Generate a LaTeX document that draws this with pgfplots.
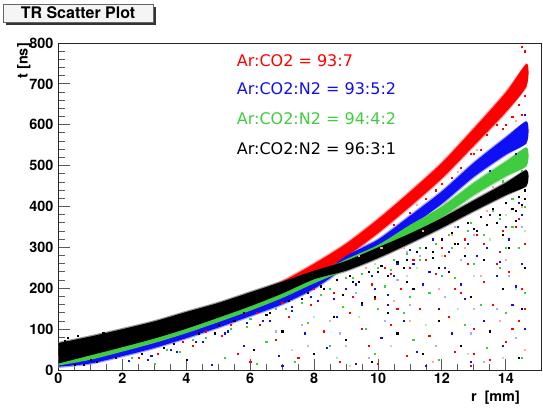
\documentclass[border=0pt]{standalone}
\usepackage{pgfplots}
\pgfplotsset{compat=1.18}
\usepackage{fontspec}
\setmainfont{TeX Gyre Heros}
\newfontfamily\dejavu{DejaVu Sans}
\definecolor{rred}{RGB}{255,0,0}
\definecolor{rblue}{RGB}{15,15,245}
\definecolor{rgreen}{RGB}{64,204,64}
\definecolor{rblack}{RGB}{0,0,0}
\pgfplotstableread{
r   rU   rL   bU   bL   gU   gL   kU   kL
0    55   25   28    8   32   11   66   16
1    73   43   36   16   46   25   82   36
2    92   62   54   34   66   45  100   56
3   112   82   74   54   87   66  119   77
4   135  105   98   78  111   90  142  101
5   159  129  124  104  138  117  164  128
6   187  157  152  132  166  145  190  156
7   217  187  181  161  197  176  216  187
8   260  230  220  199  233  212  243  222
9   309  277  279  251  271  245  267  243
10  369  335  319  291  306  280  300  274
11  436  400  377  349  355  329  334  310
12  507  469  437  407  400  374  372  348
13  591  549  507  473  458  428  415  389
14  679  631  569  527  510  474  458  428
14.65 749 695 608 556 544 500 489 451
}\bands
\begin{document}
\begin{tikzpicture}[x=1pt,y=1pt]
\useasboundingbox (0,0) rectangle (543,408);
\begin{axis}[
  at={(58.5pt,38pt)}, anchor=south west,
  scale only axis, width=482.5pt, height=327pt,
  xmin=0, xmax=15.1, ymin=0, ymax=800,
  xtick={0,2,...,14}, ytick={0,100,...,800},
  minor x tick num=3, minor y tick num=4,
  tick align=inside, xtick pos=bottom, ytick pos=left,
  major tick length=11pt, minor tick length=6pt,
  tick style={black!65, line width=0.9pt},
  axis line style={black!85, line width=1pt},
  /pgf/number format/assume math mode=true,
  ticklabel style={font=\fontsize{14.4}{16}\selectfont\bfseries, inner sep=0pt},
  xticklabel shift=3pt, yticklabel shift=5pt,
  clip=true,
  every axis plot/.append style={mark size=0.55pt},
]
% ---------- scattered hits (solid) ----------
\addplot[only marks, mark=square*, rred] coordinates {
(4.2,60) (5.1,85) (5.6,40) (6.3,110) (6.8,75) (7.2,130) (7.5,30) (7.9,160) (8.3,95) (8.6,190)
(8.8,20) (9.1,140) (9.4,215) (9.7,60) (9.9,175) (10.2,250) (10.4,110) (10.7,200) (10.9,35) (11.1,270)
(11.3,150) (11.6,85) (11.8,235) (12.0,300) (12.2,130) (12.4,45) (12.6,190) (12.8,260) (13.0,100) (13.1,330)
(13.3,215) (13.5,25) (13.6,160) (13.8,290) (14.0,70) (14.1,240) (14.3,350) (14.4,120) (14.5,200) (14.6,310)
(3.1,40) (2.5,30) (6.0,20) (10.0,15) (12.9,10)
(10.5,355) (11.0,385) (11.5,418) (12.0,455) (12.3,470) (12.6,495) (12.9,530) (13.2,540) (13.4,575) (13.7,600)
(13.9,590) (14.2,620) (14.4,650) (14.5,625) (14.6,670) (14.6,780) (14.5,790) (11.8,440) (13.0,530) (14.0,600)
(8.0,200) (7.0,165) (6.2,140) (5.4,110) (4.6,95) (3.9,70) (9.2,180) (9.8,210) (10.4,235) (11.0,250)
(11.5,270) (12.1,280) (12.7,320) (13.3,310) (13.9,340) (14.4,370) (10.6,150) (12.4,200) (13.7,260) (14.6,150)
(9.5,100) (11.8,60) (13.0,40) (14.2,100)
};
\addplot[only marks, mark=square*, rblue] coordinates {
(3.5,50) (4.5,70) (5.3,95) (5.8,60) (6.4,120) (6.9,35) (7.3,145) (7.7,90) (8.1,170) (8.4,55)
(8.7,130) (9.0,200) (9.3,15) (9.5,160) (9.8,230) (10.1,80) (10.3,185) (10.6,260) (10.8,120) (11.0,295)
(11.2,45) (11.4,210) (11.7,320) (11.9,150) (12.1,250) (12.3,90) (12.5,350) (12.7,175) (12.9,20) (13.1,280)
(13.3,120) (13.5,380) (13.7,230) (13.9,60) (14.1,320) (14.2,160) (14.4,410) (14.5,260) (14.6,100)
(2.8,25) (4.8,12) (7.0,10) (11.5,10) (13.5,487) (14.3,530) (14.6,625)
(7.9,180) (7.3,155) (6.6,120) (5.9,115) (5.2,90) (4.3,70) (3.7,45) (2.9,35) (2.2,22) (8.6,175)
(9.3,210) (9.9,200) (10.5,230) (11.1,260) (11.6,240) (12.2,290) (12.8,310) (13.4,300) (14.0,350) (14.5,380)
(10.3,160) (12.6,210) (13.8,265) (14.3,205)
};
\addplot[only marks, mark=square*, rgreen] coordinates {
(3.8,45) (4.6,80) (5.2,30) (5.9,105) (6.5,70) (7.1,150) (7.4,20) (7.8,115) (8.2,185) (8.5,60)
(8.9,155) (9.2,225) (9.6,100) (9.9,40) (10.2,205) (10.5,270) (10.8,140) (11.1,75) (11.3,300) (11.6,190)
(11.9,25) (12.2,330) (12.4,225) (12.7,110) (12.9,360) (13.2,160) (13.4,55) (13.6,390) (13.8,250) (14.0,140)
(14.2,420) (14.4,300) (14.5,30) (14.6,190) (6.2,15) (3.0,15) (13.9,462) (14.5,487)
(8.5,200) (9.0,225) (9.5,235) (10.0,250) (10.4,245) (10.9,285) (11.3,270) (11.8,310) (12.3,300) (12.8,340)
(13.3,330) (13.8,370) (14.2,350) (14.6,400) (7.6,165) (6.8,150) (6.0,125) (5.4,100) (4.2,75) (3.4,50)
(2.3,30) (12.0,230) (13.0,260) (14.0,300) (11.0,180) (10.0,150)
};
\addplot[only marks, mark=square*, rblack] coordinates {
(3.3,55) (4.0,25) (4.9,90) (5.5,120) (6.1,50) (6.6,140) (7.0,95) (7.6,175) (8.0,40) (8.3,200)
(8.6,130) (9.0,75) (9.2,215) (9.5,165) (9.8,20) (10.0,240) (10.3,140) (10.6,90) (10.9,270) (11.1,200)
(11.4,40) (11.7,290) (11.9,120) (12.2,240) (12.4,310) (12.6,60) (12.9,180) (13.1,340) (13.3,270) (13.5,95)
(13.7,360) (13.9,200) (14.1,300) (14.3,390) (14.4,30) (14.5,150) (14.6,420) (14.6,250)
(0.3,78) (0.6,84) (0.2,72) (1.0,25) (0.5,12) (1.4,92)
(8.2,205) (8.7,220) (9.1,230) (9.4,215) (9.7,240) (10.1,255) (10.3,230) (10.6,265) (10.8,250) (11.2,290)
(11.5,300) (11.7,275) (12.0,320) (12.3,335) (12.5,310) (12.8,360) (13.0,345) (13.2,375) (13.4,355) (13.6,395)
(13.8,380) (14.0,410) (14.2,395) (14.4,425) (14.5,405) (14.6,440) (14.3,365) (13.9,330) (12.7,280) (11.9,250)
(10.9,215) (9.9,180) (8.9,185) (7.8,190) (7.2,170) (6.5,135) (5.8,140) (5.0,110) (4.4,90) (3.6,65)
(2.6,40) (1.8,30) (1.2,20) (0.8,12)
};
% ---------- scattered hits (faint) ----------
\addplot[only marks, mark=square*, rred!35] coordinates {
(8.5,120) (9.0,60) (9.6,250) (10.1,300) (10.5,170) (11.0,120) (11.4,340) (11.9,200) (12.3,330) (12.7,300)
(13.0,150) (13.4,390) (13.8,120) (14.5,400) (14.6,50) (10.8,300) (12.1,410) (13.6,448) (9.4,280) (7.8,60)
(11.7,20) (13.2,230) (14.0,270) (12.5,485) (13.1,540) (14.3,610) (11.2,405)
};
\addplot[only marks, mark=square*, rblue!35] coordinates {
(8.8,90) (9.3,190) (9.7,30) (10.2,120) (10.6,220) (11.0,160) (11.3,280) (11.8,60) (12.1,180) (12.6,270)
(13.0,330) (13.3,20) (13.7,150) (14.1,230) (14.5,350) (10.9,290) (12.4,350) (7.6,110) (6.8,95)
(12.9,90) (14.3,80)
};
\addplot[only marks, mark=square*, rgreen!40] coordinates {
(8.0,130) (8.7,30) (9.4,130) (9.9,260) (10.4,60) (10.9,230) (11.5,110) (12.0,280) (12.5,150) (13.0,230)
(13.5,320) (13.9,30) (14.3,200) (14.6,340) (11.2,250) (12.8,40) (14.0,380) (7.3,50) (9.1,10)
};
% ---------- pale speckled fringe of the bands ----------
\addplot[draw=rred!40, line width=2.4pt, smooth, tension=0.45] table[x=r, y=rU] {\bands};
\addplot[draw=rred!40, line width=2.4pt, smooth, tension=0.45] table[x=r, y=rL] {\bands};
\addplot[draw=rblue!40, line width=2.4pt, smooth, tension=0.45] table[x=r, y=bU] {\bands};
\addplot[draw=rblue!40, line width=2.4pt, smooth, tension=0.45] table[x=r, y=bL] {\bands};
\addplot[draw=rgreen!45, line width=2.4pt, smooth, tension=0.45] table[x=r, y=gU] {\bands};
\addplot[draw=rgreen!45, line width=2.4pt, smooth, tension=0.45] table[x=r, y=gL] {\bands};
\addplot[draw=black!40, line width=2.4pt, smooth, tension=0.45] table[x=r, y=kU] {\bands};
\addplot[draw=black!40, line width=2.4pt, smooth, tension=0.45] table[x=r, y=kL] {\bands};
% ---------- dense bands (upper edge, then lower edge back) ----------
\addplot[draw=none, fill=rred, smooth, tension=0.45] coordinates {
(0,55) (1,73) (2,92) (3,112) (4,135) (5,159) (6,187) (7,217) (8,260) (9,309) (10,369) (11,436) (12,507) (13,591) (14,679) (14.65,749)
(14.65,695) (14,631) (13,549) (12,469) (11,400) (10,335) (9,277) (8,230) (7,187) (6,157) (5,129) (4,105) (3,82) (2,62) (1,43) (0,25)
} -- cycle;
\addplot[draw=none, fill=rblue, smooth, tension=0.45] coordinates {
(0,28) (1,36) (2,54) (3,74) (4,98) (5,124) (6,152) (7,181) (8,220) (9,279) (10,319) (11,377) (12,437) (13,507) (14,569) (14.65,608)
(14.65,556) (14,527) (13,473) (12,407) (11,349) (10,291) (9,251) (8,199) (7,161) (6,132) (5,104) (4,78) (3,54) (2,34) (1,16) (0,8)
} -- cycle;
\addplot[draw=none, fill=rgreen, smooth, tension=0.45] coordinates {
(0,32) (1,46) (2,66) (3,87) (4,111) (5,138) (6,166) (7,197) (8,233) (9,271) (10,306) (11,355) (12,400) (13,458) (14,510) (14.65,544)
(14.65,500) (14,474) (13,428) (12,374) (11,329) (10,280) (9,245) (8,212) (7,176) (6,145) (5,117) (4,90) (3,66) (2,45) (1,25) (0,11)
} -- cycle;
\addplot[draw=none, fill=rblack, smooth, tension=0.45] coordinates {
(0,66) (1,82) (2,100) (3,119) (4,142) (5,164) (6,190) (7,216) (8,243) (9,267) (10,300) (11,334) (12,372) (13,415) (14,458) (14.65,489)
(14.65,451) (14,428) (13,389) (12,348) (11,310) (10,274) (9,243) (8,222) (7,187) (6,156) (5,128) (4,101) (3,77) (2,56) (1,36) (0,16)
} -- cycle;
\end{axis}
% title box
\fill[black!80] (153,383) rectangle (156,401);
\fill[black!80] (6,383) rectangle (156,386);
\draw[black!60, fill=gray!8, line width=0.8pt] (3,386) rectangle (153,404);
\node[font=\fontsize{16}{18}\selectfont\bfseries, inner sep=0pt] at (78,395) {TR Scatter Plot};
% axis labels
\node[anchor=base east, font=\fontsize{14.4}{16}\selectfont\bfseries, inner sep=0pt] at (520,7) {r\ \ [mm]};
\node[rotate=90, anchor=base east, font=\fontsize{14.4}{16}\selectfont\bfseries, inner sep=0pt] at (27.5,365) {t [ns]};
% legend texts
\node[anchor=west, inner sep=0pt, text=rred, font=\dejavu\fontsize{16}{18}\selectfont] at (236.7,347.5) {Ar:CO2 = 93:7};
\node[anchor=west, inner sep=0pt, text=rblue, font=\dejavu\fontsize{16}{18}\selectfont] at (236.7,319.5) {Ar:CO2:N2 = 93:5:2};
\node[anchor=west, inner sep=0pt, text=rgreen, font=\dejavu\fontsize{16}{18}\selectfont] at (236.7,289.5) {Ar:CO2:N2 = 94:4:2};
\node[anchor=west, inner sep=0pt, text=rblack, font=\dejavu\fontsize{16}{18}\selectfont] at (236.7,259.5) {Ar:CO2:N2 = 96:3:1};
\end{tikzpicture}
\end{document}
